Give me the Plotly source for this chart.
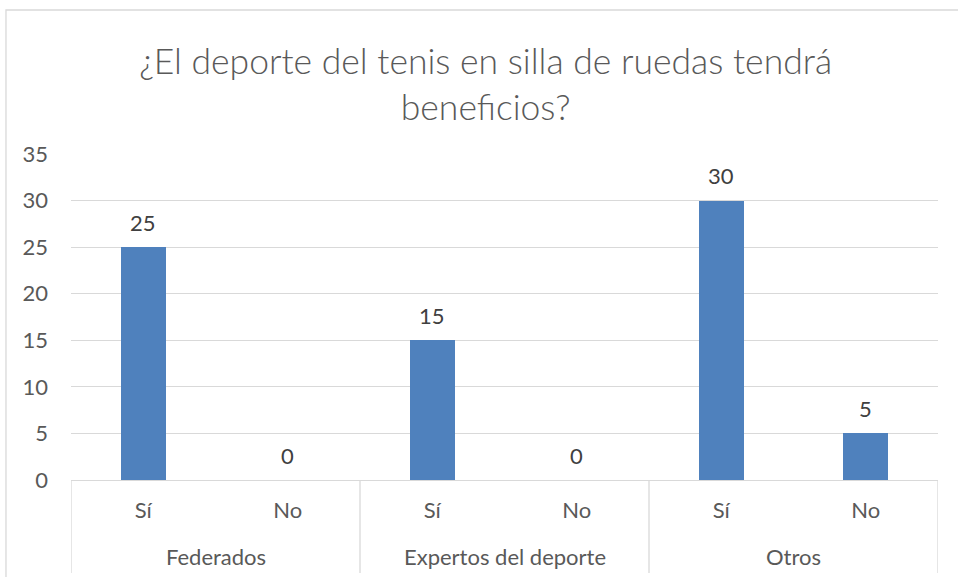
import plotly.graph_objects as go

# Survey answers per respondent group
groups = ["Federados", "Expertos del deporte", "Otros"]
answers = ["Sí", "No"]
counts = [25, 0, 15, 0, 30, 5]

title_text = "¿El deporte del tenis en silla de ruedas tendrá<br>beneficios?"

BAR = "#4F81BD"
GRID = "#D9D9D9"
TXT = "#595959"
LBL = "#404040"
FONT = "Lato"
FS = 22

positions = list(range(len(counts)))
tick_text = [a for _ in groups for a in answers]

fig = go.Figure()
fig.add_trace(go.Bar(
    x=positions, y=counts, width=0.31,
    marker=dict(color=BAR, line=dict(width=0)),
    hoverinfo="skip", showlegend=False,
))

# value labels above each bar
for p, v in zip(positions, counts):
    fig.add_annotation(x=p, y=v, xref="x", yref="y", text=str(v),
                       showarrow=False, yanchor="middle", yshift=25,
                       font=dict(family=FONT, size=FS, color=LBL))

# group labels and dividers under the category axis
n = len(answers)
for gi, g in enumerate(groups):
    fig.add_annotation(x=gi * n + (n - 1) / 2, y=-0.235, xref="x", yref="paper",
                       text=g, showarrow=False, yanchor="middle",
                       font=dict(family=FONT, size=FS, color=TXT))
for gi in range(len(groups) + 1):
    xb = gi * n - 0.5
    fig.add_shape(type="line", xref="x", yref="paper", x0=xb, x1=xb,
                  y0=0, y1=-0.285, line=dict(color=GRID, width=1.3))

# outer chart border
fig.add_shape(type="rect", xref="paper", yref="paper",
              x0=-0.075, x1=1.1, y0=-0.32, y1=1.4417,
              line=dict(color=GRID, width=1.3), fillcolor="rgba(0,0,0,0)",
              layer="below")

fig.update_layout(
    width=958, height=577,
    margin=dict(l=71, r=20, t=154, b=97),
    paper_bgcolor="white", plot_bgcolor="white",
    font=dict(family=FONT, color=TXT),
    title=dict(text=title_text, x=0.507, xref="container", xanchor="center",
               y=0.872, yref="container", yanchor="middle",
               font=dict(family=FONT, size=35.5, color=TXT, weight=300)),
    bargap=0,
    xaxis=dict(range=[-0.5, len(counts) - 0.5], tickvals=positions,
               ticktext=tick_text, showgrid=False, zeroline=False,
               showline=True, linecolor=GRID, linewidth=1.3, ticks="",
               ticklabelstandoff=10,
               tickfont=dict(family=FONT, size=FS, color=TXT)),
    yaxis=dict(range=[0, 35], dtick=5, showgrid=True, gridcolor=GRID,
               gridwidth=1.3, zeroline=False, showline=False, ticks="",
               ticklabelstandoff=22,
               tickfont=dict(family=FONT, size=FS, color=TXT)),
)

fig.write_html("out.html")
